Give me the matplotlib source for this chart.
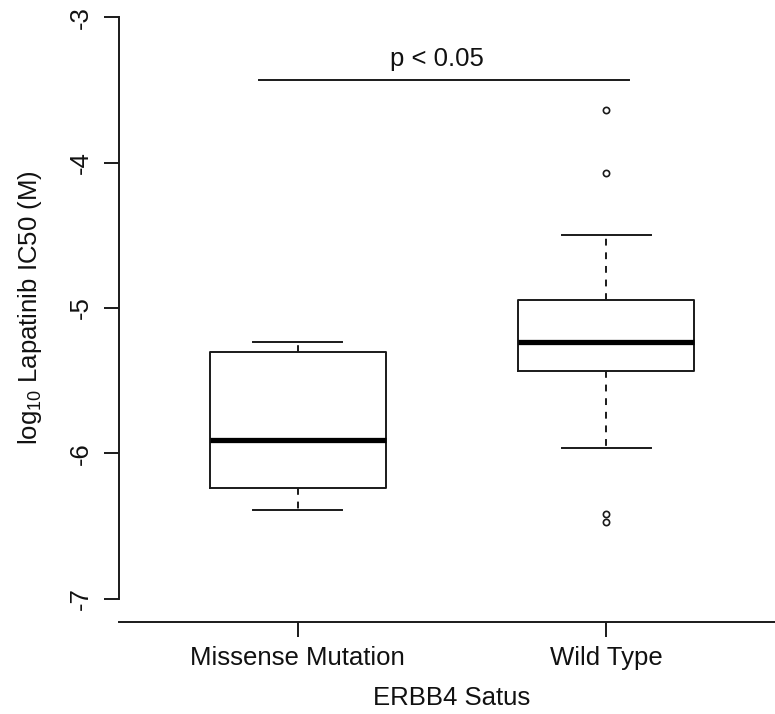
import matplotlib
matplotlib.use("Agg")
import matplotlib.pyplot as plt

plt.rcParams['font.family'] = ['Liberation Sans', 'DejaVu Sans']
plt.rcParams['mathtext.fontset'] = 'custom'
plt.rcParams['mathtext.rm'] = 'Liberation Sans'
plt.rcParams['mathtext.it'] = 'Liberation Sans'
plt.rcParams['mathtext.default'] = 'regular'

categories = ["Missense Mutation", "Wild Type"]
whisker_low = [-6.39, -5.96]
q1 = [-6.24, -5.43]
median = [-5.91, -5.235]
q3 = [-5.305, -4.945]
whisker_high = [-5.235, -4.50]
outliers = [[], [-3.64, -4.07, -6.42, -6.47]]
yticks = [-3, -4, -5, -6, -7]
sig_text = "p < 0.05"
sig_y = -3.43
sig_x = [0.873, 2.075]

W, H = 775, 714
fig = plt.figure(figsize=(W / 100, H / 100), dpi=100)
left, right, bottom, top = 119, 785, 622, -6
ax = fig.add_axes([left / W, (H - bottom) / H, (right - left) / W, (bottom - top) / H])
ax.set_xlim(0.42, 2.58)
ax.set_ylim(-7.16, -2.84)

col = '#1a1a1a'
stats = []
for i, c in enumerate(categories):
    stats.append(dict(label=c, whislo=whisker_low[i], q1=q1[i], med=median[i],
                      q3=q3[i], whishi=whisker_high[i], fliers=outliers[i]))

ax.bxp(stats, positions=[1, 2], widths=0.571, showfliers=True,
       boxprops=dict(color=col, linewidth=1.4),
       medianprops=dict(color='black', linewidth=3.8, solid_capstyle='butt'),
       whiskerprops=dict(color=col, linewidth=1.4, linestyle=(0, (3.5, 3.5))),
       capprops=dict(color=col, linewidth=1.4),
       capwidths=0.289,
       flierprops=dict(marker='o', markersize=4.5, markerfacecolor='none',
                       markeredgecolor=col, markeredgewidth=1.2, linestyle='none'))

for s in ['top', 'right']:
    ax.spines[s].set_visible(False)
ax.spines['left'].set_bounds(-7, -3)
ax.spines['left'].set_color(col)
ax.spines['bottom'].set_color(col)
ax.spines['left'].set_linewidth(1.4)
ax.spines['bottom'].set_linewidth(1.4)

ax.set_yticks(yticks)
ax.set_yticklabels([str(t) for t in yticks], rotation=90, va='center')
ax.set_xticks([1, 2])
ax.set_xticklabels(categories)
ax.tick_params(axis='both', length=11, width=1.4, color=col, labelsize=18.5,
               labelcolor='#111111')
ax.tick_params(axis='y', pad=8)
ax.tick_params(axis='x', pad=6)

ax.set_xlabel("ERBB4 Satus", fontsize=18.5, color='#111111', labelpad=12)
ax.set_ylabel(r"log$_{10}$ Lapatinib IC50 (M)", fontsize=18.5, color='#111111', labelpad=18)

ax.plot(sig_x, [sig_y, sig_y], color=col, linewidth=1.4, clip_on=False)
ax.text(sum(sig_x) / 2 - 0.024, sig_y + 0.06, sig_text, ha='center', va='bottom',
        fontsize=18.5, color='#111111')

fig.savefig("out.png", dpi=100)
